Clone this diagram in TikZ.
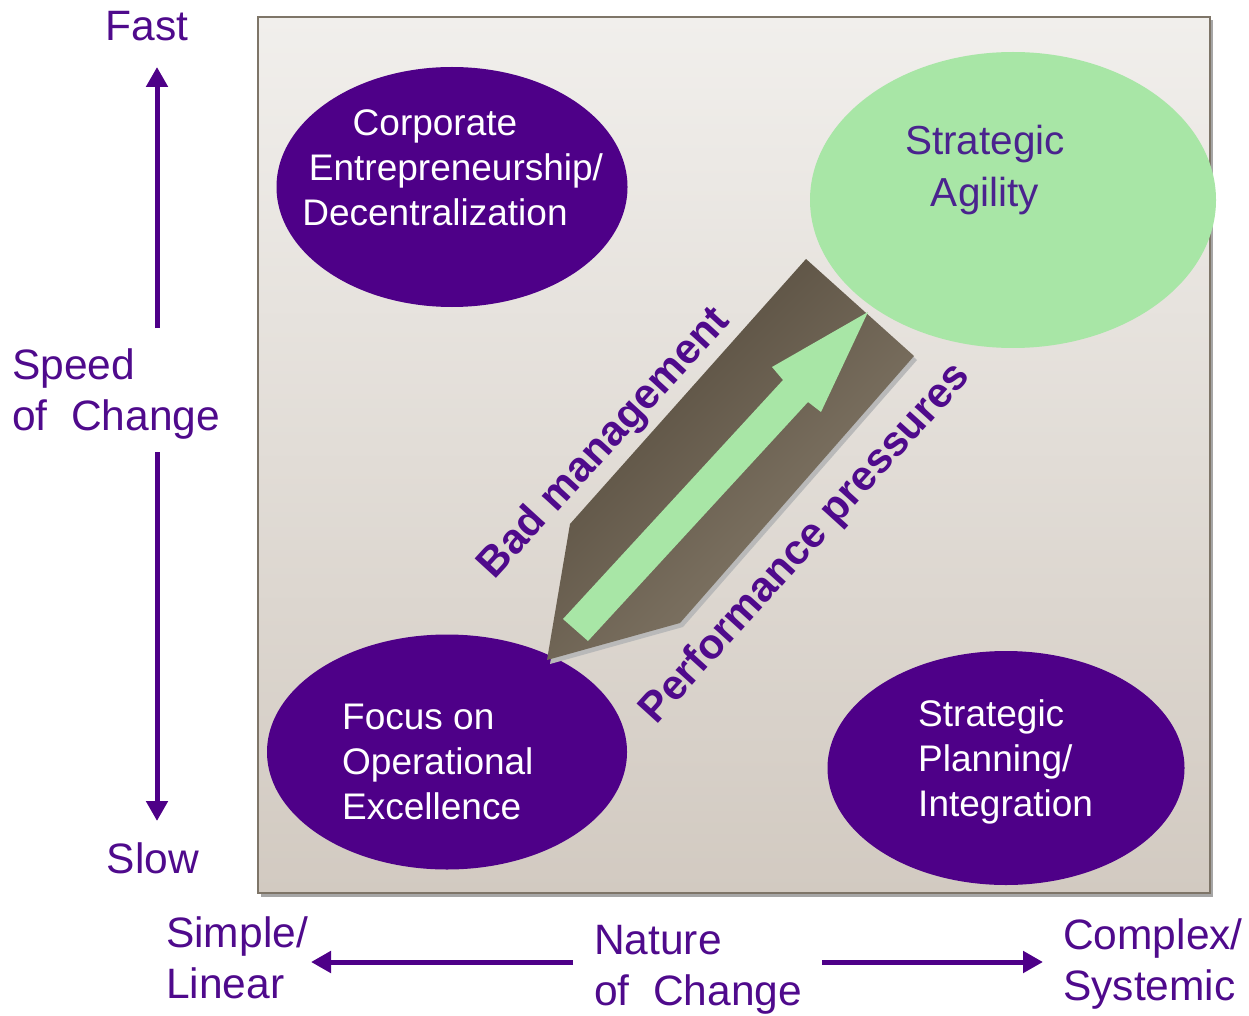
\documentclass[tikz,border=0pt]{standalone}
\usepackage{fontspec}
\setmainfont{Liberation Sans}
\usetikzlibrary{shapes.geometric,arrows.meta,shadows}
\definecolor{purp}{HTML}{4E0088}
\definecolor{purptxt}{HTML}{4F0A8C}
\definecolor{agtxt}{HTML}{4A238E}
\definecolor{lgreen}{HTML}{A8E6A6}
\definecolor{boxtop}{HTML}{F1EFEC}
\definecolor{boxbot}{HTML}{D2CAC1}
\definecolor{boxedge}{HTML}{7E7568}
\definecolor{browndark}{HTML}{52483A}
\definecolor{brownlight}{HTML}{8A7F6E}
\tikzset{
  blob/.style={ellipse, fill=purp, draw=none, inner sep=0pt},
  gblob/.style={ellipse, fill=lgreen, draw=none, inner sep=0pt},
  wtxt/.style={text=white, font=\fontsize{37}{45}\selectfont, inner sep=0pt},
  axtxt/.style={text=purptxt, font=\fontsize{42.5}{51}\selectfont, inner sep=0pt},
  diagtxt/.style={text=purptxt, font=\fontsize{42}{50}\selectfont\bfseries, inner sep=0pt},
  axarrow/.style={draw=purp, line width=5pt, -{Triangle[width=21pt,length=20pt]}},
}
\begin{document}
\begin{tikzpicture}[x=1pt,y=-1pt]
\useasboundingbox (0,0) rectangle (1249,1016);
% frame with shadow
\fill[gray!70] (261,20) rectangle (1213,897);
\shade[top color=boxtop, bottom color=boxbot, draw=boxedge, line width=2pt] (258,17) rectangle (1210,893);

% ellipses
\node[blob, minimum width=351pt, minimum height=240pt] (corp) at (452,187) {};
\node[gblob, minimum width=406pt, minimum height=296pt] (agil) at (1013,200) {};
\node[blob, minimum width=360pt, minimum height=235pt] (focus) at (447,752) {};
\node[blob, minimum width=357pt, minimum height=234pt] (plan) at (1006,768) {};

% brown pointer shape
\fill[gray!55] (809,263) -- (917,360) -- (683,627) -- (550,664) -- (573,528) -- cycle;
\shade[top color=browndark, bottom color=brownlight, shading angle=45]
  (806,259) -- (914,356) -- (680,623) -- (547,660) -- (570,524) -- cycle;
% green arrow
\fill[lgreen] (563,619) -- (783,380) -- (772,367) -- (868,312) -- (821,412) -- (808,402) -- (588,641) -- cycle;

% ellipse texts
\node[wtxt, align=center] (corpt) at (435,168) {Corporate\\\hspace*{42pt}Entrepreneurship/\\Decentralization};
\node[wtxt, text=agtxt, align=center, font=\fontsize{40.5}{52}\selectfont] (agilt) at (985,170) {Strategic\\Agility};
\node[wtxt, align=left, anchor=west] (focust) at (342,762) {Focus on\\Operational\\Excellence};
\node[wtxt, align=left, anchor=west] (plant) at (918,762) {Strategic\\Planning/\\Integration};

% diagonal labels
\node[diagtxt, rotate=47.5] (bad) at (605,444) {Bad management};
\node[diagtxt, rotate=47.8] (perf) at (806,544) {Performance pressures};

% axis labels
\node[axtxt] (fast) at (147,26) {Fast};
\node[axtxt] (slow) at (153,858) {Slow};
\node[axtxt, align=left, anchor=west] (speed) at (12,394) {Speed\\of~~Change};
\node[axtxt, align=left, anchor=west] (simple) at (166,958) {Simple/\\Linear};
\node[axtxt, align=left, anchor=west] (nature) at (594,970) {Nature\\of~~Change};
\node[axtxt, align=left, anchor=west] (complex) at (1063,964) {Complex/\\Systemic};

% axis arrows
\coordinate (vup0) at (157,328);
\coordinate (vup1) at (157,67);
\coordinate (vdn0) at (157,452);
\coordinate (vdn1) at (157,821);
\coordinate (hl0) at (573,962);
\coordinate (hl1) at (311,962);
\coordinate (hr0) at (822,962);
\coordinate (hr1) at (1043,962);
\draw[axarrow] (vup0) -- (vup1);
\draw[axarrow] (vdn0) -- (vdn1);
\draw[axarrow] (hl0) -- (hl1);
\draw[axarrow] (hr0) -- (hr1);
\end{tikzpicture}
\end{document}
